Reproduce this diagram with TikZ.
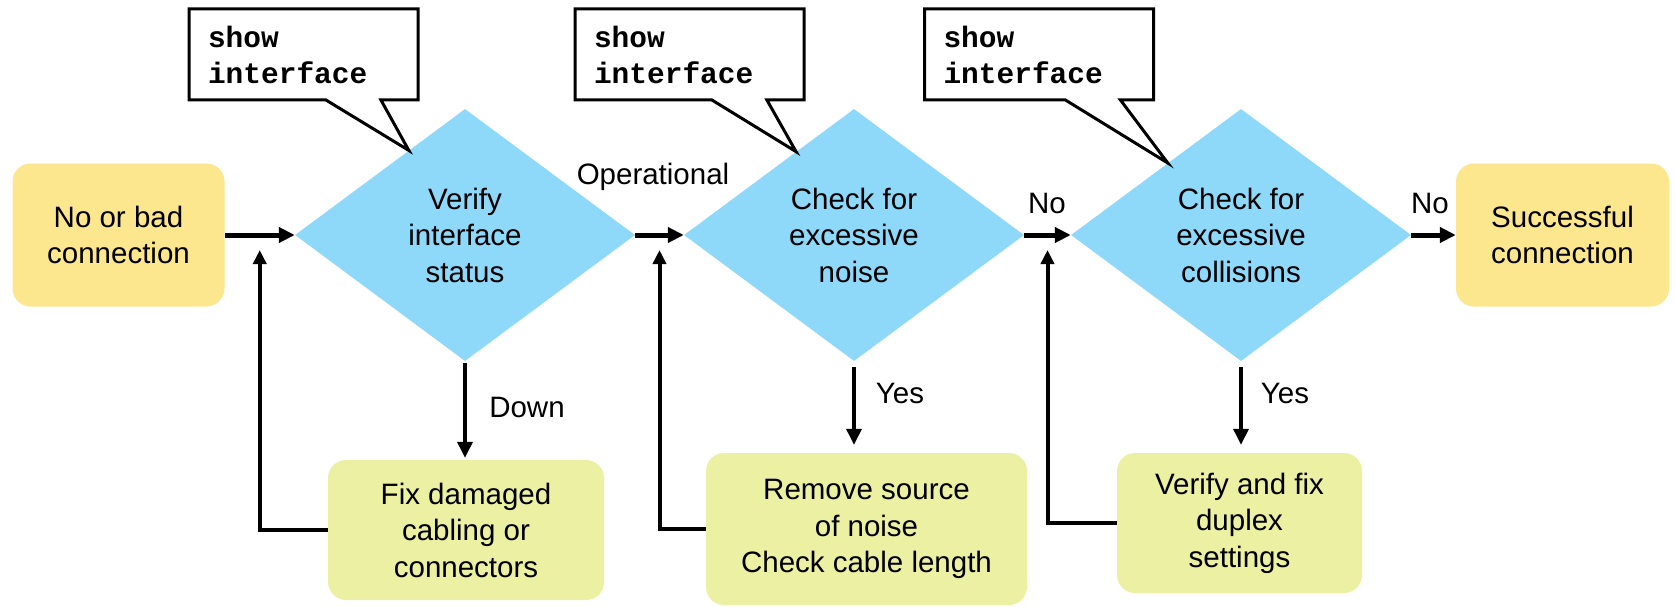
\documentclass[tikz,border=0pt]{standalone}
\usepackage{fontspec}
\setmainfont{Liberation Sans}
\newfontfamily\cmdfont{Liberation Mono}
\usetikzlibrary{positioning,arrows.meta,shapes.geometric,shapes.callouts,calc}

\definecolor{decblue}{RGB}{142,216,250}
\definecolor{endyellow}{RGB}{252,230,142}
\definecolor{fixgreen}{RGB}{236,240,162}

\begin{document}
\begin{tikzpicture}[x=1pt,y=1pt,
  >={Triangle[length=16pt,width=15pt]},
  font=\fontsize{29.5}{36.5}\selectfont,
  txt/.style={align=center,inner sep=0pt},
  endbox/.style={txt,rectangle,rounded corners=18pt,fill=endyellow,minimum width=212pt,minimum height=143pt},
  fixbox/.style={txt,rectangle,rounded corners=18pt,fill=fixgreen,minimum height=140pt},
  decision/.style={txt,diamond,fill=decblue,minimum width=340pt,minimum height=252pt},
  cmdnote/.style={rectangle callout,draw,line width=3pt,fill=white,minimum width=229pt,minimum height=91pt,
    text width=191pt,align=left,inner sep=0pt,callout pointer width=55pt,
    font=\cmdfont\bfseries\fontsize{29.5}{36}\selectfont},
  flow/.style={->,line width=5pt},
  down/.style={->,line width=3.5pt},
  back/.style={->,line width=4pt,>={Triangle[length=14pt,width=13pt]}},
]
  \useasboundingbox (0,0) rectangle (1675,-607);

  % main line
  \node[endbox] (start) at (118.5,-235) {No or bad\\connection};
  \node[decision] (d1) at (465,-235) {Verify\\interface\\status};
  \node[decision] (d2) at (854,-235) {Check for\\excessive\\noise};
  \node[decision] (d3) at (1241,-235) {Check for\\excessive\\collisions};
  \node[endbox,minimum width=213pt] (done) at (1562.5,-235) {Successful\\connection};

  % repair steps
  \node[fixbox,minimum width=276pt] (fix1) at (466,-530) {Fix damaged\\cabling or\\connectors};
  \node[fixbox,minimum width=321pt,minimum height=152pt] (fix2) at (866.5,-529) {Remove source\\of noise\\Check cable length};
  \node[fixbox,minimum width=245pt] (fix3) at (1239.5,-523) {Verify and fix\\duplex\\settings};

  % commands
  \node[cmdnote,callout absolute pointer={($(d1.north)!0.33!(d1.west)$)}] (note1) at (303.5,-54.5) {show\\interface};
  \node[cmdnote,callout absolute pointer={($(d2.north)!0.34!(d2.west)$)}] (note2) at (689.5,-54.5) {show\\interface};
  \node[cmdnote,callout absolute pointer={($(d3.north)!0.43!(d3.west)$)}] (note3) at (1039,-54.5) {show\\interface};

  % labels
  \node[txt] (op) at (653,-177) {Operational};
  \node[txt] (no1) at (1047,-203) {No};
  \node[txt] (no2) at (1430,-203) {No};
  \node[txt] (dn) at (527,-407) {Down};
  \node[txt] (yes1) at (900,-393) {Yes};
  \node[txt] (yes2) at (1285,-393) {Yes};

  \coordinate (j1) at ($(start.east)!0.5!(d1.west)$);
  \coordinate (j2) at ($(d1.east)!0.5!(d2.west)$);
  \coordinate (j3) at ($(d2.east)!0.5!(d3.west)$);

  \draw[flow] (start.east) -- (d1.west);
  \draw[flow] (d1.east) -- (d2.west);
  \draw[flow] (d2.east) -- (d3.west);
  \draw[flow] (d3.east) -- (done.west);

  \draw[down,shorten <=2pt,shorten >=2pt] (d1.south) -- (d1.south |- fix1.north);
  \draw[down,shorten <=6pt,shorten >=8pt] (d2.south) -- (d2.south |- fix2.north);
  \draw[down,shorten <=6pt,shorten >=8pt] (d3.south) -- (d3.south |- fix3.north);

  \draw[back] (fix1.west) -| ([yshift=-15pt]j1);
  \draw[back] (fix2.west) -| ([yshift=-15pt]j2);
  \draw[back] (fix3.west) -| ([yshift=-15pt]j3);
\end{tikzpicture}
\end{document}
